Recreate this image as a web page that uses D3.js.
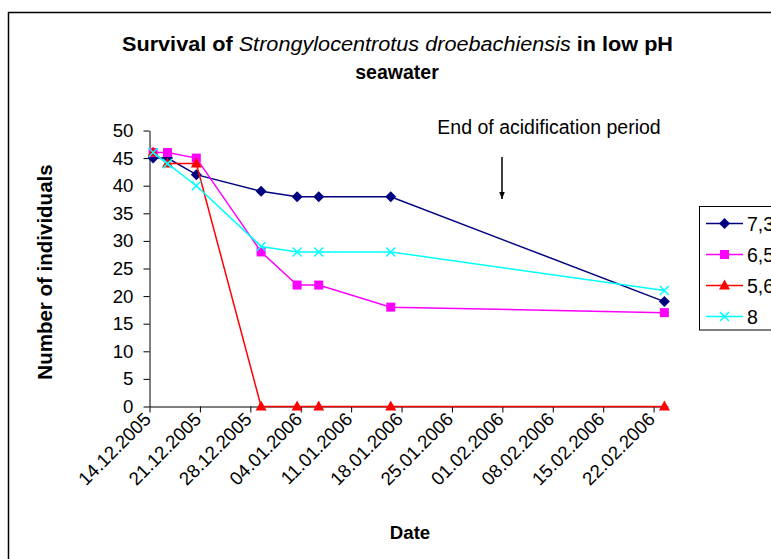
<!DOCTYPE html>
<html>
<head>
<meta charset="utf-8">
<script src="https://cdn.jsdelivr.net/npm/d3@7"></script>
<style>
html,body{margin:0;padding:0;background:#fff;}
svg{display:block;font-family:"Liberation Sans",Arial,sans-serif;}
</style>
</head>
<body>
<svg id="chart" width="771" height="559"></svg>
<script>
const dates = ["14.12.2005","16.12.2005","20.12.2005","29.12.2005","03.01.2006","06.01.2006","16.01.2006","23.02.2006"];
const seriesNames = ["7,3","6,5","5,6","8"];
const s73 = [45,45,42,39,38,38,38,19];
const s65 = [46,46,45,28,22,22,18,17];
const s56 = [46,44,44,0,0,0,0,0];
const s8  = [46,44,40,29,28,28,28,21];
const tickLabels = ["14.12.2005","21.12.2005","28.12.2005","04.01.2006","11.01.2006","18.01.2006","25.01.2006","01.02.2006","08.02.2006","15.02.2006","22.02.2006"];
const yTicks = [0,5,10,15,20,25,30,35,40,45,50];
const colors = ["#000080","#FF00FF","#FF0000","#00FFFF"];
const markers = ["diamond","square","triangle","x"];

const parse = d3.timeParse("%d.%m.%Y");
const svg = d3.select("#chart");

// outer border
svg.append("rect").attr("x",8.5).attr("y",12.5).attr("width",800).attr("height",600)
  .attr("fill","none").attr("stroke","#000").attr("stroke-width",1.5);

const x = d3.scaleTime().domain([parse("14.12.2005"), parse("24.02.2006")]).range([149.5, 668]);
const y = d3.scaleLinear().domain([0,50]).range([406.5,130.5]);
const half = 12*3600*1000;
const px = d => x(new Date(parse(d).getTime()+half));

// title
const title = svg.append("text").attr("x",397.5).attr("y",51).attr("text-anchor","middle")
  .attr("font-size","19.5px").attr("fill","#000")
  .attr("textLength",551).attr("lengthAdjust","spacingAndGlyphs");
title.append("tspan").attr("font-weight","bold").text("Survival of ");
title.append("tspan").attr("font-style","italic").text("Strongylocentrotus droebachiensis");
title.append("tspan").attr("font-weight","bold").text("  in low pH");
svg.append("text").attr("x",397).attr("y",79).attr("text-anchor","middle")
  .attr("font-size","19.5px").attr("font-weight","bold").text("seawater");

// y axis
const yAxis = d3.axisLeft(y).tickValues(yTicks).tickSize(6).tickSizeOuter(0).tickPadding(10);
const gy = svg.append("g").attr("transform","translate(149.5,0)").call(yAxis);
gy.selectAll("text").attr("font-size","18.67px").attr("fill","#000").attr("font-family","Liberation Sans, Arial, sans-serif");
gy.selectAll("line,path").attr("stroke","#000");

// x axis
const xAxis = d3.axisBottom(x).tickValues(tickLabels.map(parse)).tickFormat(d3.timeFormat("%d.%m.%Y"))
  .tickSize(6).tickSizeOuter(0);
const gx = svg.append("g").attr("transform","translate(0,406.5)").call(xAxis);
gx.selectAll("line,path").attr("stroke","#000");
gx.selectAll("text").attr("font-size","18.67px").attr("fill","#000").attr("font-family","Liberation Sans, Arial, sans-serif")
  .attr("text-anchor","end").attr("dy",null).attr("y",0)
  .attr("transform","translate(2,14) rotate(-45)");

// axis titles
svg.append("text").attr("transform","translate(52,272) rotate(-90)").attr("text-anchor","middle")
  .attr("font-size","20.5px").attr("font-weight","bold").text("Number of individuals");
svg.append("text").attr("x",410).attr("y",539).attr("text-anchor","middle")
  .attr("font-size","18.67px").attr("font-weight","bold").text("Date");

// annotation
svg.append("text").attr("x",549).attr("y",134).attr("text-anchor","middle")
  .attr("font-size","19.5px").text("End of acidification period");
svg.append("defs").append("marker").attr("id","arr").attr("viewBox","0 0 10 10")
  .attr("refX",10).attr("refY",5).attr("markerWidth",5).attr("markerHeight",5).attr("orient","auto")
  .append("path").attr("d","M0,1 L10,5 L0,9 Z").attr("fill","#000");
svg.append("line").attr("x1",502).attr("y1",157).attr("x2",502).attr("y2",199)
  .attr("stroke","#000").attr("stroke-width",1.5).attr("marker-end","url(#arr)");

// marker drawing
function drawMarker(g, type, cx, cy, color){
  if(type==="diamond"){
    g.append("path").attr("d",`M${cx},${cy-5.5}L${cx+5.5},${cy}L${cx},${cy+5.5}L${cx-5.5},${cy}Z`).attr("fill",color);
  } else if(type==="square"){
    g.append("rect").attr("x",cx-4.5).attr("y",cy-4.5).attr("width",9).attr("height",9).attr("fill",color);
  } else if(type==="triangle"){
    g.append("path").attr("d",`M${cx},${cy-6}L${cx+5.5},${cy+4}L${cx-5.5},${cy+4}Z`).attr("fill",color);
  } else {
    g.append("path").attr("d",`M${cx-4.5},${cy-4.5}L${cx+4.5},${cy+4.5}M${cx-4.5},${cy+4.5}L${cx+4.5},${cy-4.5}`)
      .attr("stroke",color).attr("stroke-width",1.5).attr("fill","none");
  }
}

const allSeries = [s73,s65,s56,s8];
const line = d3.line().x(d=>px(d.date)).y(d=>y(d.v));
allSeries.forEach((vals,i)=>{
  const data = vals.map((v,j)=>({date:dates[j], v}));
  const g = svg.append("g");
  g.append("path").datum(data).attr("d",line).attr("fill","none").attr("stroke",colors[i]).attr("stroke-width",1.5);
  data.forEach(d=>drawMarker(g, markers[i], px(d.date), y(d.v), colors[i]));
});

// legend
const lg = svg.append("g");
lg.append("rect").attr("x",699.5).attr("y",206.5).attr("width",100).attr("height",123.5)
  .attr("fill","#fff").attr("stroke","#000").attr("stroke-width",1);
seriesNames.forEach((n,i)=>{
  const ly = 223.5 + i*31;
  lg.append("line").attr("x1",706).attr("x2",743).attr("y1",ly).attr("y2",ly).attr("stroke",colors[i]).attr("stroke-width",1.5);
  drawMarker(lg, markers[i], 724.5, ly, colors[i]);
  lg.append("text").attr("x",747).attr("y",ly+7).attr("font-size","19.5px").text(n);
});
</script>
</body>
</html>
